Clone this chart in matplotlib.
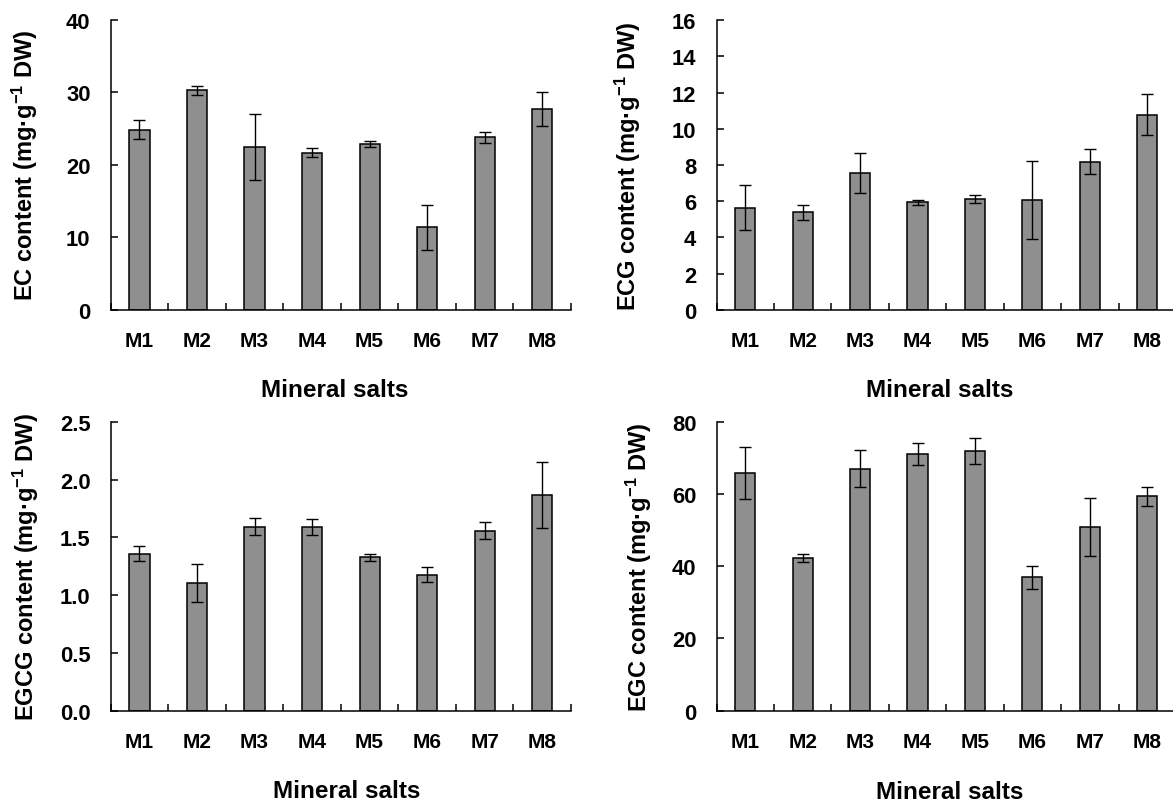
import matplotlib
matplotlib.use('Agg')
import matplotlib.pyplot as plt
import numpy as np
from matplotlib.ticker import FormatStrFormatter

plt.rcParams['font.family'] = ['Liberation Sans', 'DejaVu Sans']
plt.rcParams['font.weight'] = 'bold'
plt.rcParams['mathtext.fontset'] = 'custom'
plt.rcParams['mathtext.rm'] = 'Liberation Sans:bold'
plt.rcParams['mathtext.bf'] = 'Liberation Sans:bold'
plt.rcParams['mathtext.it'] = 'Liberation Sans:bold'
plt.rcParams['mathtext.default'] = 'rm'

# ---- data ----
categories = ['M1', 'M2', 'M3', 'M4', 'M5', 'M6', 'M7', 'M8']

ec_mean = [24.85, 30.3, 22.45, 21.7, 22.9, 11.35, 23.8, 27.7]
ec_err = [1.3, 0.6, 4.6, 0.65, 0.4, 3.05, 0.8, 2.3]

ecg_mean = [5.64, 5.38, 7.56, 5.94, 6.12, 6.06, 8.18, 10.78]
ecg_err = [1.24, 0.42, 1.1, 0.13, 0.24, 2.15, 0.69, 1.14]

egcg_mean = [1.357, 1.103, 1.593, 1.590, 1.328, 1.178, 1.559, 1.865]
egcg_err = [0.065, 0.165, 0.075, 0.072, 0.03, 0.065, 0.075, 0.285]

egc_mean = [65.8, 42.2, 67.0, 71.1, 71.9, 36.9, 50.9, 59.3]
egc_err = [7.25, 1.05, 5.2, 3.05, 3.6, 3.2, 8.05, 2.55]

ec_ticks = [0, 10, 20, 30, 40]
ecg_ticks = [0, 2, 4, 6, 8, 10, 12, 14, 16]
egcg_ticks = [0.0, 0.5, 1.0, 1.5, 2.0, 2.5]
egc_ticks = [0, 20, 40, 60, 80]

x_title = 'Mineral salts'

W, H = 1173, 803
fig = plt.figure(figsize=(W / 100, H / 100), dpi=100)

def frac_rect(x0, y0, x1, y1):
    return [x0 / W, (H - y1) / H, (x1 - x0) / W, (y1 - y0) / H]

panels = [
    dict(rect=frac_rect(110.7, 21.0, 571.0, 310.7), mean=ec_mean, err=ec_err,
         ticks=ec_ticks, fmt='%d', name='EC', ylx=-0.1873, xlx=0.486, xly=-0.2755),
    dict(rect=frac_rect(716.5, 21.3, 1176.0, 310.7), mean=ecg_mean, err=ecg_err,
         ticks=ecg_ticks, fmt='%d', name='ECG', ylx=-0.1926, xlx=0.485, xly=-0.2755),
    dict(rect=frac_rect(110.7, 423.0, 571.0, 711.7), mean=egcg_mean, err=egcg_err,
         ticks=egcg_ticks, fmt='%.1f', name='EGCG', ylx=-0.1853, xlx=0.513, xly=-0.278),
    dict(rect=frac_rect(716.5, 422.7, 1176.0, 711.7), mean=egc_mean, err=egc_err,
         ticks=egc_ticks, fmt='%d', name='EGC', ylx=-0.1687, xlx=0.507, xly=-0.278),
]

bar_color = '#8f8f8f'
x = np.arange(len(categories))

for p in panels:
    ax = fig.add_axes(p['rect'])
    ax.bar(x, p['mean'], width=0.35, color=bar_color, edgecolor='black',
           linewidth=1.1, zorder=2)
    ax.errorbar(x, p['mean'], yerr=p['err'], fmt='none', ecolor='black',
                elinewidth=1.0, capsize=4, capthick=1.0, zorder=3)
    ax.set_xlim(-0.5, len(categories) - 0.5)
    ax.set_ylim(p['ticks'][0], p['ticks'][-1])
    ax.set_yticks(p['ticks'])
    ax.yaxis.set_major_formatter(FormatStrFormatter(p['fmt']))
    ax.set_xticks(x)
    ax.set_xticklabels(categories)
    ax.set_xticks(np.arange(-0.5, len(categories), 1.0), minor=True)
    for s in ['top', 'right']:
        ax.spines[s].set_visible(False)
    for s in ['left', 'bottom']:
        ax.spines[s].set_linewidth(1.1)
    ax.tick_params(axis='x', which='major', length=0, pad=15, labelsize=15)
    ax.tick_params(axis='x', which='minor', direction='in', length=5.2, width=1.1)
    ax.tick_params(axis='y', which='major', direction='in', length=4.8, width=1.1,
                   pad=14.5, labelsize=15.8)
    for lab in ax.get_xticklabels() + ax.get_yticklabels():
        lab.set_fontweight('bold')
    ax.set_ylabel(p['name'] + r' content (mg·g$^{-1}$ DW)', fontsize=17,
                  fontweight='bold', va='center')
    ax.yaxis.set_label_coords(p['ylx'], 0.5)
    ax.set_xlabel(x_title, fontsize=17.5, fontweight='bold', va='center')
    ax.xaxis.set_label_coords(p['xlx'], p['xly'])

fig.savefig('out.png', dpi=100)
